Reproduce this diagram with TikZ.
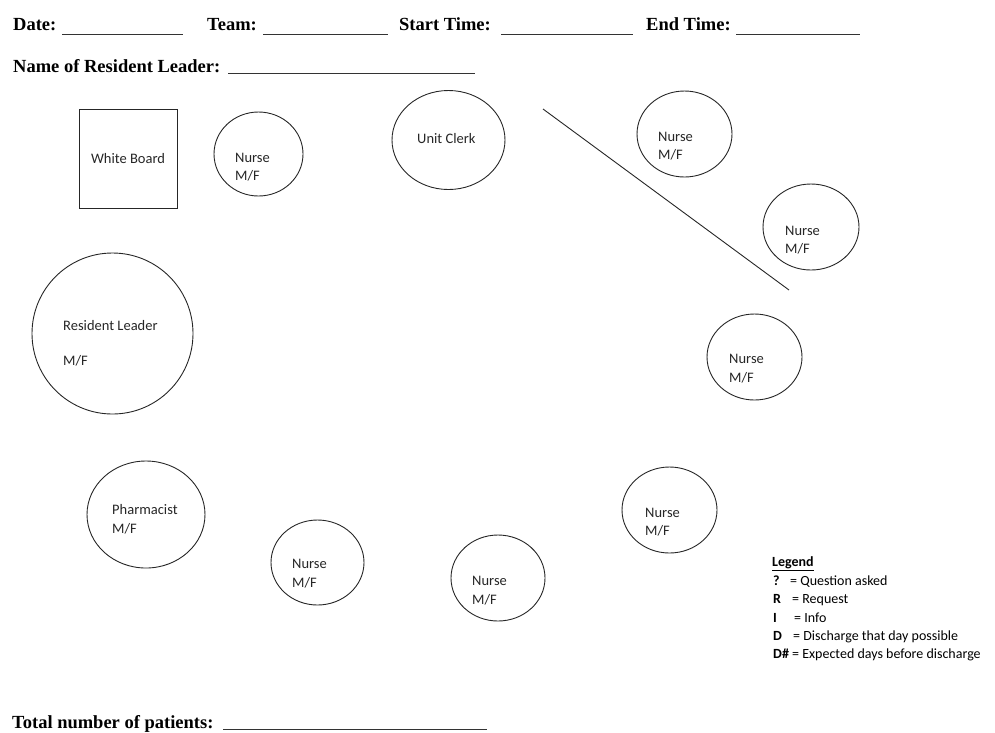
\documentclass[tikz,border=0pt]{standalone}
\usepackage{fontspec}
\setmainfont{Carlito}
\newfontfamily\hdrfont{Liberation Serif}
\usetikzlibrary{shapes.geometric}
\tikzset{
  seat/.style={draw=black!85, line width=0.9pt, ellipse, inner sep=0pt},
  lbl/.style={anchor=base west, inner sep=0pt, font=\fontsize{14.5}{17}\selectfont, text=black!85},
  hdr/.style={anchor=base west, inner sep=0pt, font=\hdrfont\fontsize{18.5}{22}\selectfont\bfseries},
  fillline/.style={draw=black!80, line width=0.9pt},
  legsym/.style={anchor=base west, inner sep=0pt, font=\fontsize{14}{17}\selectfont\bfseries},
  legtxt/.style={anchor=base west, inner sep=0pt, font=\fontsize{14}{17}\selectfont},
}
\begin{document}
\begin{tikzpicture}[x=1pt,y=-1pt]
\useasboundingbox (0,0) rectangle (995,732);
% header
\node[hdr] (date) at (13,30) {Date:};
\draw[fillline] (62,34) -- (183,34);
\node[hdr] (team) at (207,30) {Team:};
\draw[fillline] (263,34) -- (388,34);
\node[hdr] (start) at (399,30) {Start Time:};
\draw[fillline] (501,34) -- (633,34);
\node[hdr] (end) at (646,30) {End Time:};
\draw[fillline] (736,34) -- (860,34);
\node[hdr] (name) at (13,72) {Name of Resident Leader:};
\draw[fillline] (228,73) -- (475,73);
% white board
\node[draw=black!85, line width=0.9pt, minimum width=98pt, minimum height=99pt, inner sep=0pt] (wb) at (128,158.5) {};
\node[font=\fontsize{14.5}{17}\selectfont, text=black!85, inner sep=0pt] (wbt) at (128,159) {White Board};
% seats
\node[seat, minimum width=89pt, minimum height=84pt] (n1) at (258.5,154) {};
\node[lbl] (n1a) at (235,162) {Nurse};
\node[lbl] (n1b) at (235,180) {M/F};
\node[seat, minimum width=113pt, minimum height=99pt] (clerk) at (448.5,140) {};
\node[lbl] (clerkt) at (417,143) {Unit Clerk};
\node[seat, minimum width=95pt, minimum height=86pt] (ntr) at (684.5,134) {};
\node[lbl] (ntra) at (658,141) {Nurse};
\node[lbl] (ntrb) at (658,159) {M/F};
\node[seat, minimum width=96pt, minimum height=86pt] (nr2) at (811,227) {};
\node[lbl] (nr2a) at (785,235) {Nurse};
\node[lbl] (nr2b) at (785,253) {M/F};
\node[seat, minimum width=161pt, minimum height=161pt] (rl) at (112.5,333.5) {};
\node[lbl] (rla) at (63,330) {Resident Leader};
\node[lbl] (rlb) at (63,365) {M/F};
\node[seat, minimum width=95pt, minimum height=86pt] (nr3) at (754.5,357) {};
\node[lbl] (nr3a) at (729,363) {Nurse};
\node[lbl] (nr3b) at (729,382) {M/F};
\node[seat, minimum width=95pt, minimum height=86pt] (nbr) at (669.5,510) {};
\node[lbl] (nbra) at (645,517) {Nurse};
\node[lbl] (nbrb) at (645,535) {M/F};
\node[seat, minimum width=118pt, minimum height=107pt] (ph) at (146,514.5) {};
\node[lbl] (pha) at (112,514) {Pharmacist};
\node[lbl] (phb) at (112,533) {M/F};
\node[seat, minimum width=93pt, minimum height=85pt] (nb1) at (317.5,562.5) {};
\node[lbl] (nb1a) at (292,568) {Nurse};
\node[lbl] (nb1b) at (292,587) {M/F};
\node[seat, minimum width=94pt, minimum height=86pt] (nb2) at (498,578) {};
\node[lbl] (nb2a) at (472,585) {Nurse};
\node[lbl] (nb2b) at (472,604) {M/F};
% divider line
\coordinate (d1) at (543,109);
\coordinate (d2) at (789,290);
\draw[draw=black!85, line width=0.9pt] (d1) -- (d2);
% legend
\node[legsym] (leg) at (772,566) {\underline{Legend}};
\node[legsym] (q) at (773,585) {?};
\node[legtxt] (qt) at (790,585) {= Question asked};
\node[legsym] (r) at (773,603) {R};
\node[legtxt] (rt) at (792,603) {= Request};
\node[legsym] (i) at (773,622) {I};
\node[legtxt] (it) at (794,622) {= Info};
\node[legsym] (d) at (773,640) {D};
\node[legtxt] (dt) at (793,640) {= Discharge that day possible};
\node[legsym] (dh) at (773,658) {D\#};
\node[legtxt] (dht) at (792,658) {= Expected days before discharge};
% footer
\node[hdr] (total) at (12,728) {Total number of patients:};
\draw[fillline] (223,729) -- (487,729);
\end{tikzpicture}
\end{document}
